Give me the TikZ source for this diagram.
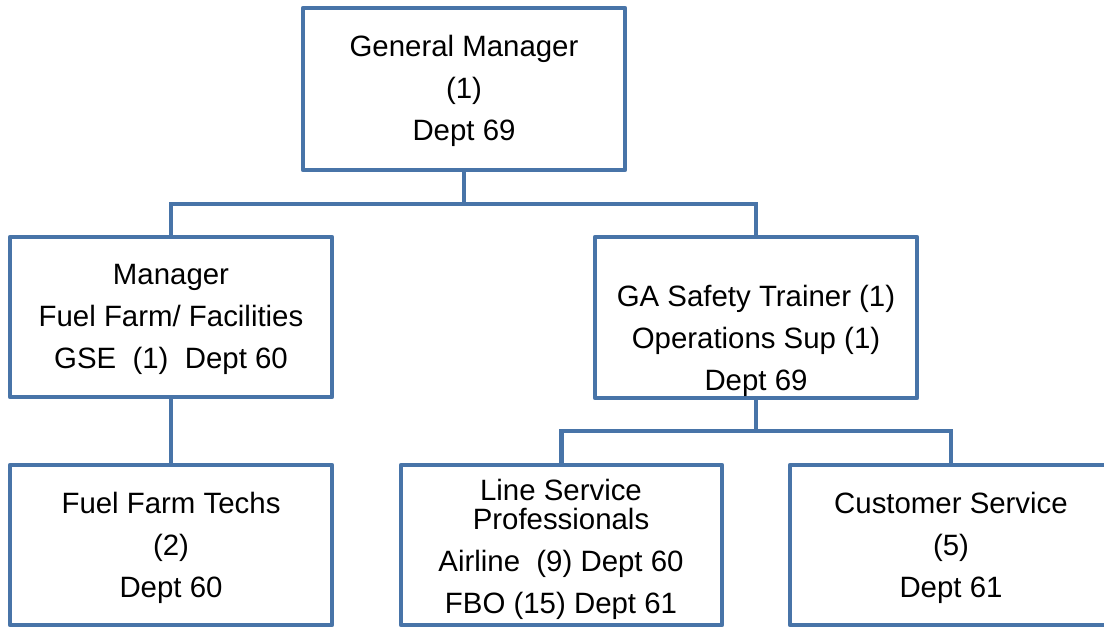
\documentclass[tikz,border=0pt]{standalone}
\usepackage{fontspec}
\setmainfont{Liberation Sans}
\definecolor{boxblue}{RGB}{72,116,168}
\begin{document}
\begin{tikzpicture}[x=1pt,y=-1pt,
  orgbox/.style={draw=boxblue,line width=4.3pt,line join=round,rectangle,inner sep=0pt,fill=white},
  conn/.style={draw=boxblue,line width=4.3pt},
  lbl/.style={align=center,inner sep=0pt,font=\fontsize{29.4}{42}\selectfont,text=black}]
\clip (0,0) rectangle (1104,627);
\fill[white] (0,0) rectangle (1104,627);
% boxes
\node[orgbox,minimum width=322pt,minimum height=162pt] (gm) at (464,89) {};
\node[orgbox,minimum width=322pt,minimum height=160pt] (mgr) at (171,317) {};
\node[orgbox,minimum width=322pt,minimum height=161pt] (ga) at (756,317.5) {};
\node[orgbox,minimum width=322pt,minimum height=160pt] (fft) at (171,545) {};
\node[orgbox,minimum width=321pt,minimum height=160pt] (lsp) at (561.5,545) {};
\node[orgbox,minimum width=322pt,minimum height=160pt] (cs) at (951,545) {};
% connectors
\coordinate (j1) at (464,204);
\coordinate (j2) at (756,431);
\draw[conn] (gm.south) -- (j1);
\draw[conn] (mgr.north) |- (j1) -| (ga.north);
\draw[conn] (mgr.south) -- (fft.north);
\draw[conn] (ga.south) -- (j2);
\draw[conn] (lsp.north) |- (j2) -| (cs.north);
% labels
\node[lbl] (tgm) at (464,91) {General Manager\\(1)\\Dept 69};
\node[lbl] (tmgr) at (171,319) {Manager\\Fuel Farm/ Facilities\\GSE\ \ (1)\ \ Dept 60};
\node[lbl] (tga) at (756,341) {GA Safety Trainer (1)\\Operations Sup (1)\\Dept 69};
\node[lbl] (tfft) at (171,548) {Fuel Farm Techs\\(2)\\Dept 60};
\node[lbl] (tlsp) at (561,549) {Line Service\\[-13pt]Professionals\\Airline\ \ (9) Dept 60\\FBO (15) Dept 61};
\node[lbl] (tcs) at (951,548) {Customer Service\\(5)\\Dept 61};
\end{tikzpicture}
\end{document}
